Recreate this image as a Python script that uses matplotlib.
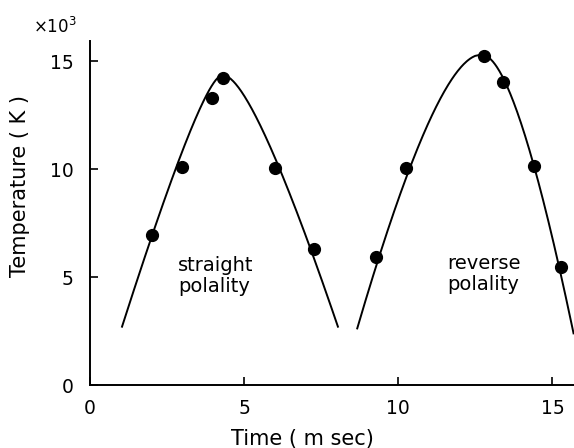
import numpy as np
import matplotlib.pyplot as plt

# measured arc temperatures (x10^3 K) against time (ms)
straight_t = [2.0, 3.0, 3.97, 4.31, 6.0, 7.28]
straight_T = [6.94, 10.1, 13.3, 14.2, 10.05, 6.3]
reverse_t = [9.29, 10.26, 12.77, 13.4, 14.4, 15.29]
reverse_T = [5.94, 10.06, 15.23, 14.04, 10.15, 5.48]

# guide curves: apex and points along each flank
straight_peak = (4.30, 14.35)
straight_rise_t = [1.10, 1.39, 1.68, 2.0, 2.38, 2.81, 3.35, 3.84]
straight_rise_T = [2.7, 4.24, 5.79, 6.94, 8.56, 10.1, 11.96, 13.5]
straight_fall_t = [4.98, 5.57, 6.06, 6.49, 7.25, 8.01]
straight_fall_T = [13.5, 11.96, 10.1, 8.56, 6.4, 2.7]

reverse_peak = (12.70, 15.30)
reverse_rise_t = [8.85, 9.29, 9.69, 10.26, 11.09, 11.74]
reverse_rise_T = [2.62, 5.94, 8.25, 10.06, 12.1, 13.66]
reverse_fall_t = [13.40, 13.96, 14.39, 14.83, 15.28, 15.61]
reverse_fall_T = [14.04, 12.1, 10.15, 8.25, 5.48, 2.39]

x_ticks = [0, 5, 10, 15]
y_ticks = [0, 5, 10, 15]

plt.rcParams['font.family'] = 'DejaVu Sans'

fig = plt.figure(figsize=(5.74, 4.48), dpi=100)
ax = fig.add_axes([90 / 574, 63 / 448, 1 - 90 / 574, 344.3 / 448])


def flank(peak, t, T, n=200):
    """Fit |t - tp| = a*sqrt(u) + b*u, u = Tp - T, and trace it."""
    tp, Tp = peak
    u = Tp - np.asarray(T, float)
    d = np.abs(np.asarray(t, float) - tp)
    A = np.column_stack([np.sqrt(u), u])
    a, b = np.linalg.lstsq(A, d, rcond=None)[0]
    uu = np.linspace(0, u.max(), n)
    sign = np.sign(np.mean(np.asarray(t) - tp))
    return tp + sign * (a * np.sqrt(uu) + b * uu), Tp - uu


def guide(peak, rise_t, rise_T, fall_t, fall_T):
    lt, lT = flank(peak, rise_t, rise_T)
    rt, rT = flank(peak, fall_t, fall_T)
    return np.concatenate([lt[::-1], rt]), np.concatenate([lT[::-1], rT])


for args in [(straight_peak, straight_rise_t, straight_rise_T,
              straight_fall_t, straight_fall_T),
             (reverse_peak, reverse_rise_t, reverse_rise_T,
              reverse_fall_t, reverse_fall_T)]:
    tt, TT = guide(*args)
    ax.plot(tt, TT, color='black', lw=1.4)

ax.plot(straight_t, straight_T, 'o', color='black', ms=8.5)
ax.plot(reverse_t, reverse_T, 'o', color='black', ms=8.5)

ax.text(2.86, 5.05, 'straight\npolality', ha='left', va='center',
        fontsize=14, linespacing=1.15)
ax.text(11.58, 5.14, 'reverse\npolality', ha='left', va='center',
        fontsize=14, linespacing=1.15)

ax.set_xlim(0, 15.7)
ax.set_ylim(0, 15.94)
ax.set_xticks(x_ticks)
ax.set_yticks(y_ticks)
ax.tick_params(direction='in', length=6, width=1.2, labelsize=13.5)
ax.tick_params(axis='x', pad=10)
ax.tick_params(axis='y', pad=12)
for s in ['top', 'right']:
    ax.spines[s].set_visible(False)
for s in ['left', 'bottom']:
    ax.spines[s].set_linewidth(1.4)

ax.set_xlabel('Time ( m sec)', fontsize=15)
ax.xaxis.set_label_coords(0.439, -0.128)
ax.set_ylabel('Temperature ( K )', fontsize=15)
ax.yaxis.set_label_coords(-0.124, 0.578)

fig.text(33 / 574, 1 - 33 / 448, r'×10$^3$', fontsize=12, va='baseline')

fig.savefig('out.png', dpi=100)
